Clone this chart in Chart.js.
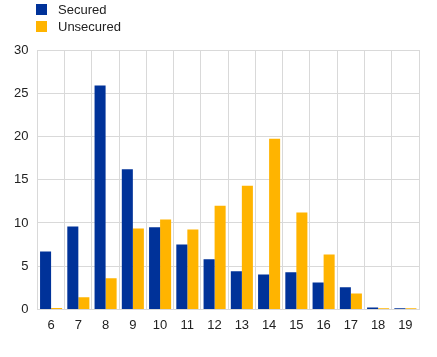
<!DOCTYPE html>
<html>
<head>
<meta charset="utf-8">
<script src="https://cdn.jsdelivr.net/npm/chart.js@4/dist/chart.umd.min.js"></script>
<style>
  html, body { margin: 0; padding: 0; background: #fff; }
  #wrap { position: relative; width: 437px; height: 357px; }
  #legend { position: absolute; left: 36px; top: 1px; font-family: "Liberation Sans", Arial, sans-serif; font-size: 13px; color: #222; }
  .item { display: flex; align-items: center; height: 17px; }
  .box { width: 11px; height: 11px; margin-right: 11px; }
</style>
</head>
<body>
<div id="wrap">
  <canvas id="c" width="437" height="357"></canvas>
  <div id="legend"></div>
</div>
<script>
const categories = ["6","7","8","9","10","11","12","13","14","15","16","17","18","19"];
const seriesNames = ["Secured", "Unsecured"];
const securedValues = [6.7, 9.6, 25.9, 16.2, 9.5, 7.5, 5.8, 4.4, 4.05, 4.3, 3.1, 2.55, 0.23, 0.12];
const unsecuredValues = [0.15, 1.4, 3.6, 9.35, 10.4, 9.25, 12.0, 14.3, 19.75, 11.2, 6.35, 1.85, 0.12, 0.12];
const yTicks = [0, 5, 10, 15, 20, 25, 30];
const colors = ["#003299", "#FFB400"];

const legend = document.getElementById('legend');
seriesNames.forEach((n, i) => {
  const d = document.createElement('div'); d.className = 'item';
  const b = document.createElement('span'); b.className = 'box'; b.style.background = colors[i];
  const t = document.createElement('span'); t.textContent = n;
  d.appendChild(b); d.appendChild(t); legend.appendChild(d);
});

const font = { family: '"Liberation Sans", Arial, sans-serif', size: 13 };
new Chart(document.getElementById('c'), {
  type: 'bar',
  data: {
    labels: categories,
    datasets: [
      { label: seriesNames[0], data: securedValues, backgroundColor: colors[0], categoryPercentage: 0.81, barPercentage: 1 },
      { label: seriesNames[1], data: unsecuredValues, backgroundColor: colors[1], categoryPercentage: 0.81, barPercentage: 1 }
    ]
  },
  options: {
    responsive: false,
    animation: false,
    layout: { padding: { top: 50, left: 5, right: 18, bottom: 16 } },
    plugins: { legend: { display: false }, tooltip: { enabled: false } },
    scales: {
      x: {
        grid: { color: '#d9d9d9', lineWidth: 1, drawTicks: false, offset: true },
        border: { color: '#d9d9d9' },
        ticks: { color: '#222', font: font, padding: 8, maxRotation: 0 }
      },
      y: {
        min: 0, max: 30,
        afterBuildTicks: (axis) => { axis.ticks = yTicks.map(v => ({ value: v })); },
        grid: { color: '#d9d9d9', lineWidth: 1, drawTicks: false },
        border: { color: '#d9d9d9' },
        ticks: { color: '#222', font: font, padding: 9 }
      }
    }
  }
});
</script>
</body>
</html>
